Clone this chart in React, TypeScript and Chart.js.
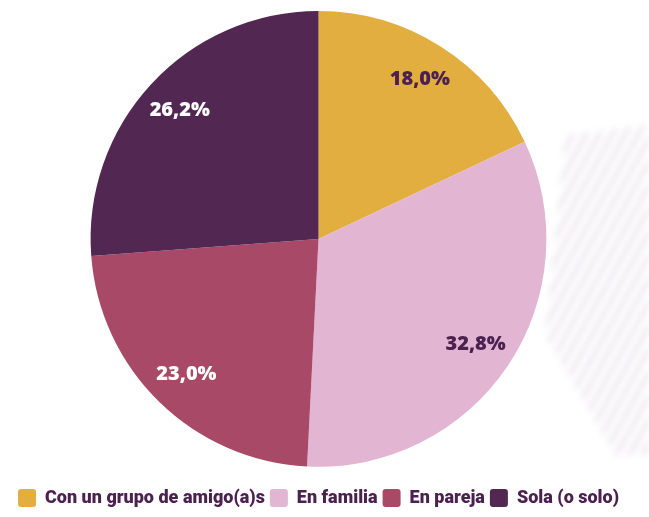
import React, { useEffect, useRef } from "react";
import { Chart, registerables } from "chart.js";

Chart.register(...registerables);

const categories = ["Con un grupo de amigo(a)s", "En familia", "En pareja", "Sola (o solo)"];
const values = [18.0, 32.8, 23.0, 26.2];
const valueLabels = ["18,0%", "32,8%", "23,0%", "26,2%"];
const colors = ["#E3AE40", "#E2B6D3", "#A84A67", "#522852"];
const labelColors = ["#4B2150", "#4B2150", "#FFFFFF", "#FFFFFF"];

const watermark = {
  id: "watermark",
  beforeDraw(chart: any) {
    const { ctx } = chart;
    const off = document.createElement("canvas");
    off.width = 649;
    off.height = 517;
    const o = off.getContext("2d");
    if (!o) return;
    o.beginPath();
    o.moveTo(565, 135);
    o.lineTo(649, 125);
    o.lineTo(649, 455);
    o.lineTo(615, 455);
    o.lineTo(545, 335);
    o.closePath();
    o.clip();
    o.strokeStyle = "rgba(210, 200, 215, 0.4)";
    o.lineWidth = 5;
    for (let k = -400; k < 400; k += 13) {
      o.beginPath();
      o.moveTo(540 + k, 470);
      o.lineTo(540 + k + 200, 110);
      o.stroke();
    }
    ctx.save();
    ctx.filter = "blur(3px)";
    ctx.drawImage(off, 0, 0);
    ctx.restore();
  },
};

const sliceLabels = {
  id: "sliceLabels",
  afterDatasetsDraw(chart: any) {
    const { ctx } = chart;
    const meta = chart.getDatasetMeta(0);
    ctx.save();
    ctx.font = "800 20px 'Open Sans', sans-serif";
    ctx.textAlign = "center";
    ctx.textBaseline = "middle";
    meta.data.forEach((arc: any, i: number) => {
      const p = arc.getProps(["x", "y", "startAngle", "endAngle", "outerRadius"], true);
      const mid = (p.startAngle + p.endAngle) / 2;
      const r = p.outerRadius * 0.83;
      ctx.fillStyle = labelColors[i];
      ctx.fillText(valueLabels[i], p.x + Math.cos(mid) * r, p.y + Math.sin(mid) * r);
    });
    ctx.restore();
  },
};

export default function App() {
  const ref = useRef<HTMLCanvasElement | null>(null);
  useEffect(() => {
    if (!ref.current) return;
    const chart = new Chart(ref.current, {
      type: "pie",
      data: {
        labels: categories,
        datasets: [
          {
            data: values,
            backgroundColor: colors,
            borderWidth: 0,
          },
        ],
      },
      options: {
        animation: false,
        responsive: true,
        maintainAspectRatio: false,
        layout: { padding: { top: 11, bottom: 0, right: 12 } },
        plugins: {
          tooltip: { enabled: false },
          legend: {
            position: "bottom",
            title: { display: true, text: "", font: { size: 1 }, padding: { top: 0, bottom: 16 } },
            labels: {
              color: "#4B2150",
              font: { family: "Roboto, sans-serif", size: 18, weight: "900" },
              boxWidth: 18,
              boxHeight: 18,
              useBorderRadius: true,
              borderRadius: 3,
              padding: 5,
            },
          },
        },
      },
      plugins: [watermark, sliceLabels],
    });
    return () => chart.destroy();
  }, []);
  return (
    <div style={{ position: "fixed", left: 0, top: 0, width: 649, height: 517, background: "#fff" }}>
      <canvas ref={ref} />
    </div>
  );
}
